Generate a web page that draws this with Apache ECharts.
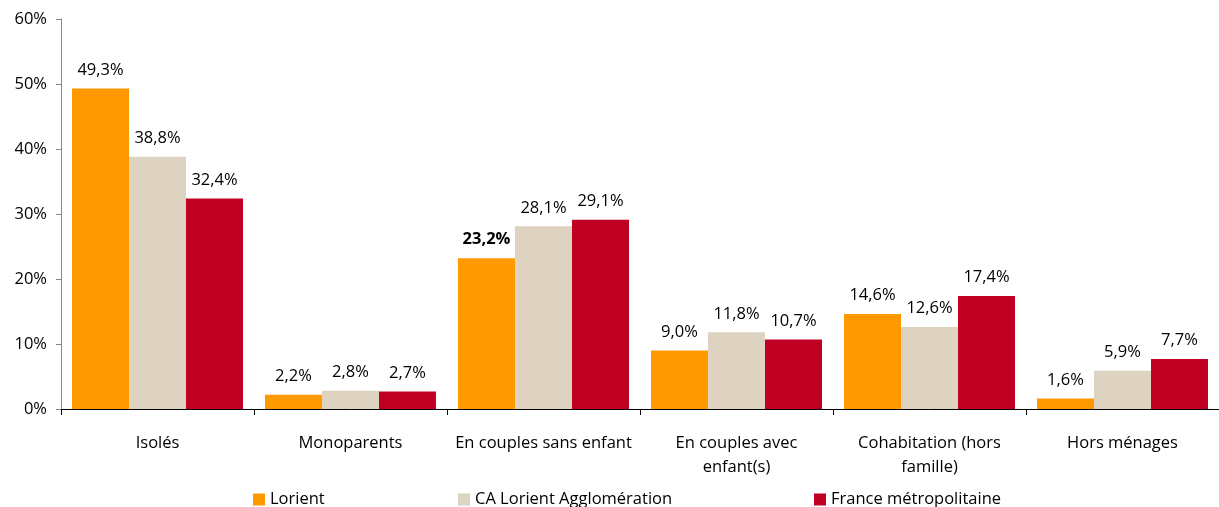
<!DOCTYPE html>
<html><head><meta charset="utf-8">
<script src="https://cdn.jsdelivr.net/npm/echarts@6/dist/echarts.min.js"></script>
<style>html,body{margin:0;padding:0;background:#fff}#c{width:1219px;height:507px}</style>
</head><body><div id="c"></div>
<script>
const categories = ['Isolés', 'Monoparents', 'En couples sans enfant', 'En couples avec\nenfant(s)', 'Cohabitation (hors\nfamille)', 'Hors ménages'];
const lorient = [49.3, 2.2, 23.2, 9.0, 14.6, 1.6];
const caLorient = [38.8, 2.8, 28.1, 11.8, 12.6, 5.9];
const france = [32.4, 2.7, 29.1, 10.7, 17.4, 7.7];
const seriesNames = ['Lorient', 'CA Lorient Agglomération', 'France métropolitaine'];
const colors = ['#FF9900', '#DDD3C0', '#C00023'];
const boldLabels = [[2], [], []];
const yTicks = [0, 10, 20, 30, 40, 50, 60];

const FONT = 'Open Sans';
const FS = 16.5;
const legendLefts = [248, 453, 809];
const fmt = v => v.toFixed(1).replace('.', ',') + '%';
const chart = echarts.init(document.getElementById('c'), null, {renderer: 'canvas'});
const mk = (i, arr) => ({
  name: seriesNames[i], type: 'bar', barGap: '0%', barCategoryGap: '11.4%',
  itemStyle: {color: colors[i]},
  data: arr.map((v, j) => ({
    value: v,
    label: {fontWeight: boldLabels[i].includes(j) ? 'bold' : 'normal'}
  })),
  label: {show: true, position: 'top', distance: 10, color: '#000', fontSize: FS, fontFamily: FONT,
    formatter: p => fmt(p.value)}
});
chart.setOption({
  animation: false,
  textStyle: {fontFamily: FONT},
  grid: {left: 61, right: 0, top: 19, bottom: 98, containLabel: false},
  legend: seriesNames.map((n, i) => ({
    top: 486, left: legendLefts[i], itemWidth: 12, itemHeight: 12,
    icon: 'rect', textStyle: {fontSize: FS, color: '#000', fontFamily: FONT},
    data: [n]
  })),
  xAxis: {
    type: 'category', data: categories,
    axisLine: {lineStyle: {color: '#000', width: 1}},
    axisTick: {show: true, length: 6, lineStyle: {color: '#000'}},
    axisLabel: {color: '#000', fontSize: FS, fontFamily: FONT, margin: 22, lineHeight: 24, interval: 0}
  },
  yAxis: {
    type: 'value', min: yTicks[0], max: yTicks[yTicks.length - 1], interval: 10,
    axisLine: {show: true, lineStyle: {color: '#868686'}},
    axisTick: {show: true, length: 5, lineStyle: {color: '#868686'}},
    splitLine: {show: false},
    axisLabel: {color: '#000', fontSize: FS, fontFamily: FONT, margin: 14, formatter: '{value}%'}
  },
  series: [mk(0, lorient), mk(1, caLorient), mk(2, france)]
});
</script></body></html>
